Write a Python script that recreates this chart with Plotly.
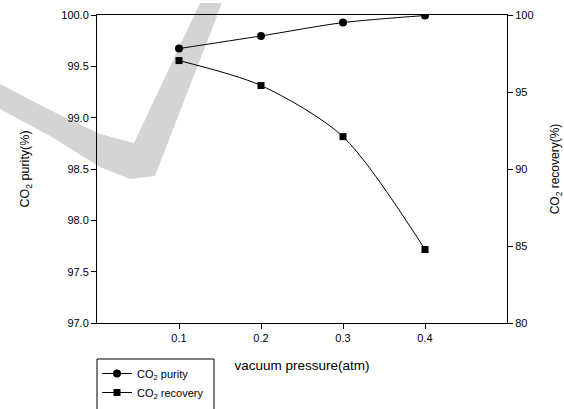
import plotly.graph_objects as go

# ---- data ----
pressure = [0.1, 0.2, 0.3, 0.4]
purity = [99.673, 99.796, 99.926, 99.995]
recovery = [97.04, 95.42, 92.10, 84.77]
x_ticks = [0.1, 0.2, 0.3, 0.4]
y_ticks = [97.0, 97.5, 98.0, 98.5, 99.0, 99.5, 100.0]
y2_ticks = [80, 85, 90, 95, 100]

W, H = 564, 409
ML, MR, MT, MB = 97, 57, 15, 86
PW, PH = W - ML - MR, H - MT - MB
FONT = "Liberation Sans, Arial, sans-serif"


def px2paper(x, y):
    return (x - ML) / PW, (H - MB - y) / PH


# decorative watermark outline (pixel coords of the canvas)
wm_pts = [(-2, 83), (50, 110), (100, 134), (134, 143), (200, 3), (222, 3),
          (155, 176), (130, 179), (100, 167), (50, 136), (-2, 108)]
wm_path = "M " + " L ".join("%.4f,%.4f" % px2paper(x, y) for x, y in wm_pts) + " Z"

fig = go.Figure()
fig.add_trace(go.Scatter(
    x=pressure, y=purity, name="CO<sub>2</sub> purity",
    mode="lines+markers", line=dict(color="black", width=1, shape="spline", smoothing=0.8),
    marker=dict(symbol="circle", size=8, color="black"), yaxis="y"))
fig.add_trace(go.Scatter(
    x=pressure, y=recovery, name="CO<sub>2</sub> recovery",
    mode="lines+markers", line=dict(color="black", width=1, shape="spline", smoothing=0.8),
    marker=dict(symbol="square", size=7, color="black"), yaxis="y2"))

lx0, ly0 = px2paper(97, 359)
lx1, ly1 = px2paper(214, 430)

fig.update_layout(
    width=W, height=H,
    margin=dict(l=ML, r=MR, t=MT, b=MB, autoexpand=False),
    paper_bgcolor="white", plot_bgcolor="rgba(0,0,0,0)",
    font=dict(family=FONT, size=11, color="black"),
    xaxis=dict(range=[0, 0.5], tickvals=x_ticks, tickformat=".1f",
               showgrid=False, zeroline=False, showline=True, linecolor="black", linewidth=1,
               mirror=True, ticks="outside", ticklen=5, tickcolor="black",
               title=dict(text="vacuum pressure(atm)", font=dict(size=13.5), standoff=17)),
    yaxis=dict(range=[97, 100], tickvals=y_ticks, tickformat=".1f",
               showgrid=False, zeroline=False, showline=True, linecolor="black", linewidth=1,
               ticks="outside", ticklen=5, tickcolor="black",
               title=dict(text="CO<sub>2</sub> purity(%)", font=dict(size=12.5), standoff=28)),
    yaxis2=dict(range=[80, 100], tickvals=y2_ticks, overlaying="y", side="right",
                showgrid=False, zeroline=False, showline=True, linecolor="black", linewidth=1,
                ticks="outside", ticklen=5, tickcolor="black",
                title=dict(text="CO<sub>2</sub> recovery(%)", font=dict(size=12), standoff=18)),
    showlegend=True,
    legend=dict(x=0, y=ly0, xanchor="left", yanchor="top", bgcolor="rgba(0,0,0,0)",
                borderwidth=0, font=dict(size=11), tracegroupgap=0),
    shapes=[
        dict(type="path", xref="paper", yref="paper", path=wm_path,
             fillcolor="#d4d4d4", line=dict(width=0), layer="below"),
        dict(type="rect", xref="paper", yref="paper", x0=lx0, y0=ly0, x1=lx1, y1=ly1,
             line=dict(color="black", width=1), fillcolor="rgba(0,0,0,0)", layer="above"),
    ],
)

fig.write_html("out.html")
